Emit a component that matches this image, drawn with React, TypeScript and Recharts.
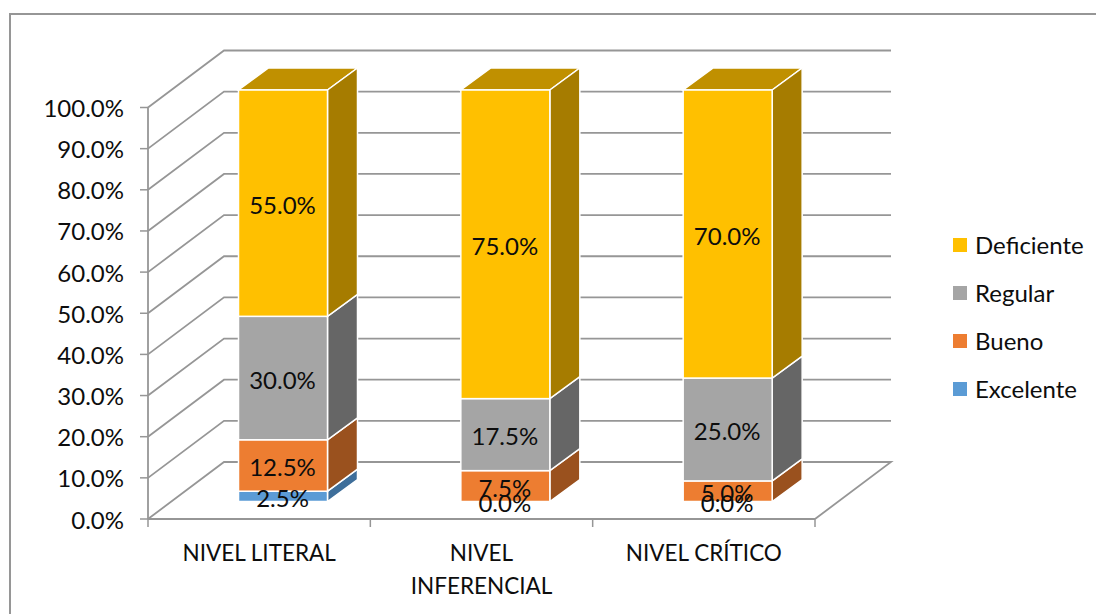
import React from 'react';
import { BarChart, Bar, XAxis, YAxis, CartesianGrid, LabelList, Legend } from 'recharts';

const categories = ['NIVEL LITERAL', 'NIVEL INFERENCIAL', 'NIVEL CRÍTICO'];
const categoryLines: Record<string, string[]> = {
  'NIVEL LITERAL': ['NIVEL LITERAL'],
  'NIVEL INFERENCIAL': ['NIVEL', 'INFERENCIAL'],
  'NIVEL CRÍTICO': ['NIVEL CRÍTICO'],
};
const excelente = [2.5, 0, 0];
const bueno = [12.5, 7.5, 5];
const regular = [30, 17.5, 25];
const deficiente = [55, 75, 70];
const yTicks = [0, 10, 20, 30, 40, 50, 60, 70, 80, 90, 100];
const legendOrder = ['Deficiente', 'Regular', 'Bueno', 'Excelente'];

const data = categories.map((name, i) => ({
  name,
  Excelente: excelente[i],
  Bueno: bueno[i],
  Regular: regular[i],
  Deficiente: deficiente[i],
}));

const FONT = 'Lato, sans-serif';
const FONT_SIZE = 24;
const TEXT = '#0d0d0d';
const GRID = '#969696';
// oblique direction of the fake 3D walls and of the bar sides
const WALL_DX = 76;
const WALL_DY = 57;
const BAR_DX = 30;
const BAR_DY = 22;
const BAR_SHIFT_X = 23.5;
const BAR_SHIFT_Y = 17.5;

const fmt = (v: number) => `${v.toFixed(1)}%`;

const Box3D = (props: any) => {
  const { x, y, width, height, fill, sideFill, topFill } = props;
  if (!height) return null;
  const l = x + BAR_SHIFT_X;
  const r = l + width;
  const t = y - BAR_SHIFT_Y;
  const b = t + height;
  return (
    <g stroke="#fff" strokeWidth={1.5}>
      {topFill && (
        <polygon fill={topFill} points={`${l},${t} ${l + BAR_DX},${t - BAR_DY} ${r + BAR_DX},${t - BAR_DY} ${r},${t}`} />
      )}
      <polygon fill={sideFill} points={`${r},${t} ${r + BAR_DX},${t - BAR_DY} ${r + BAR_DX},${b - BAR_DY} ${r},${b}`} />
      <rect x={l} y={t} width={width} height={height} fill={fill} />
    </g>
  );
};

const BarValue = (props: any) => {
  const { x, y, width, height, value } = props;
  return (
    <text
      x={x + BAR_SHIFT_X + width / 2 - 0.5}
      y={y - BAR_SHIFT_Y + height / 2 + 1}
      textAnchor="middle"
      dominantBaseline="central"
      fontFamily={FONT}
      fontSize={FONT_SIZE}
      fill={TEXT}
    >
      {fmt(value)}
    </text>
  );
};

// each grid line runs up the side wall, then along the back wall
const WallLine = (props: any) => {
  const { x1, y1, x2, y, height } = props;
  const isFloor = y1 >= y + height - 0.5;
  const band = (x2 - x1) / categories.length;
  return (
    <g fill="none" stroke={GRID} strokeWidth={1.8}>
      <polyline
        points={`${x1},${y1} ${x1 + WALL_DX},${y1 - WALL_DY} ${x2 + WALL_DX},${y1 - WALL_DY}${isFloor ? ` ${x2},${y1}` : ''}`}
      />
      {isFloor &&
        [0, 1, 2, 3].map((i) => (
          <line key={i} x1={x1 + band * i} y1={y1} x2={x1 + band * i} y2={y1 + 8} strokeWidth={1.5} />
        ))}
    </g>
  );
};

const CategoryTick = (props: any) => {
  const { x, y, payload } = props;
  return (
    <text x={x} fontFamily={FONT} fontSize={22.5} fill={TEXT} textAnchor="middle">
      {categoryLines[payload.value].map((line, i) => (
        <tspan key={line} x={x} y={y + 32 + i * 33}>
          {line}
        </tspan>
      ))}
    </text>
  );
};

const LegendList = ({ payload }: any) => (
  <div>
    {legendOrder.map((name) => {
      const item = payload.find((p: any) => p.value === name);
      return (
        <div key={name} style={{ display: 'flex', alignItems: 'center', height: 48 }}>
          <span style={{ width: 14, height: 14, background: item?.color, marginRight: 8 }} />
          <span style={{ fontFamily: FONT, fontSize: FONT_SIZE, color: TEXT }}>{name}</span>
        </div>
      );
    })}
  </div>
);

const series = [
  { key: 'Excelente', fill: '#5B9BD5', side: '#3E6E9A' },
  { key: 'Bueno', fill: '#ED7D31', side: '#9A511E' },
  { key: 'Regular', fill: '#A5A5A5', side: '#666666' },
  { key: 'Deficiente', fill: '#FFC000', side: '#A67C00', top: '#C09000' },
];

const App = () => (
  <div style={{ position: 'absolute', left: 0, top: 0, width: 1096, height: 614, background: '#fff', overflow: 'hidden' }}>
    <div style={{ position: 'absolute', left: 9, top: 13, width: 1100, height: 620, borderLeft: '2px solid #969696', borderTop: '2px solid #969696' }} />
    <BarChart
      width={1096}
      height={614}
      data={data}
      margin={{ top: 107.5, right: 281, bottom: 0, left: 0 }}
      barSize={89}
      style={{ position: 'absolute' }}
    >
      <CartesianGrid vertical={false} horizontal={<WallLine />} />
      <XAxis
        dataKey="name"
        height={95}
        tick={<CategoryTick />}
        tickSize={8}
        axisLine={{ stroke: GRID, strokeWidth: 1.8 }}
        tickLine={false}
      />
      <YAxis
        width={148}
        domain={[0, 100]}
        ticks={yTicks}
        interval={0}
        tickFormatter={fmt}
        tickSize={8}
        tickMargin={16}
        tick={{ fontFamily: FONT, fontSize: FONT_SIZE, fill: TEXT, dy: 1 }}
        axisLine={{ stroke: GRID, strokeWidth: 1.8 }}
        tickLine={{ stroke: GRID, strokeWidth: 1.5 }}
      />
      {series.map((s) => (
        <Bar
          key={s.key}
          dataKey={s.key}
          stackId="a"
          fill={s.fill}
          isAnimationActive={false}
          shape={<Box3D sideFill={s.side} topFill={s.top} />}
        >
          <LabelList dataKey={s.key} content={<BarValue />} />
        </Bar>
      ))}
      <Legend
        layout="vertical"
        align="center"
        verticalAlign="middle"
        wrapperStyle={{ left: 953, top: 220.5, width: 143, bottom: 'auto', right: 'auto' }}
        content={<LegendList />}
      />
    </BarChart>
  </div>
);

export default App;
